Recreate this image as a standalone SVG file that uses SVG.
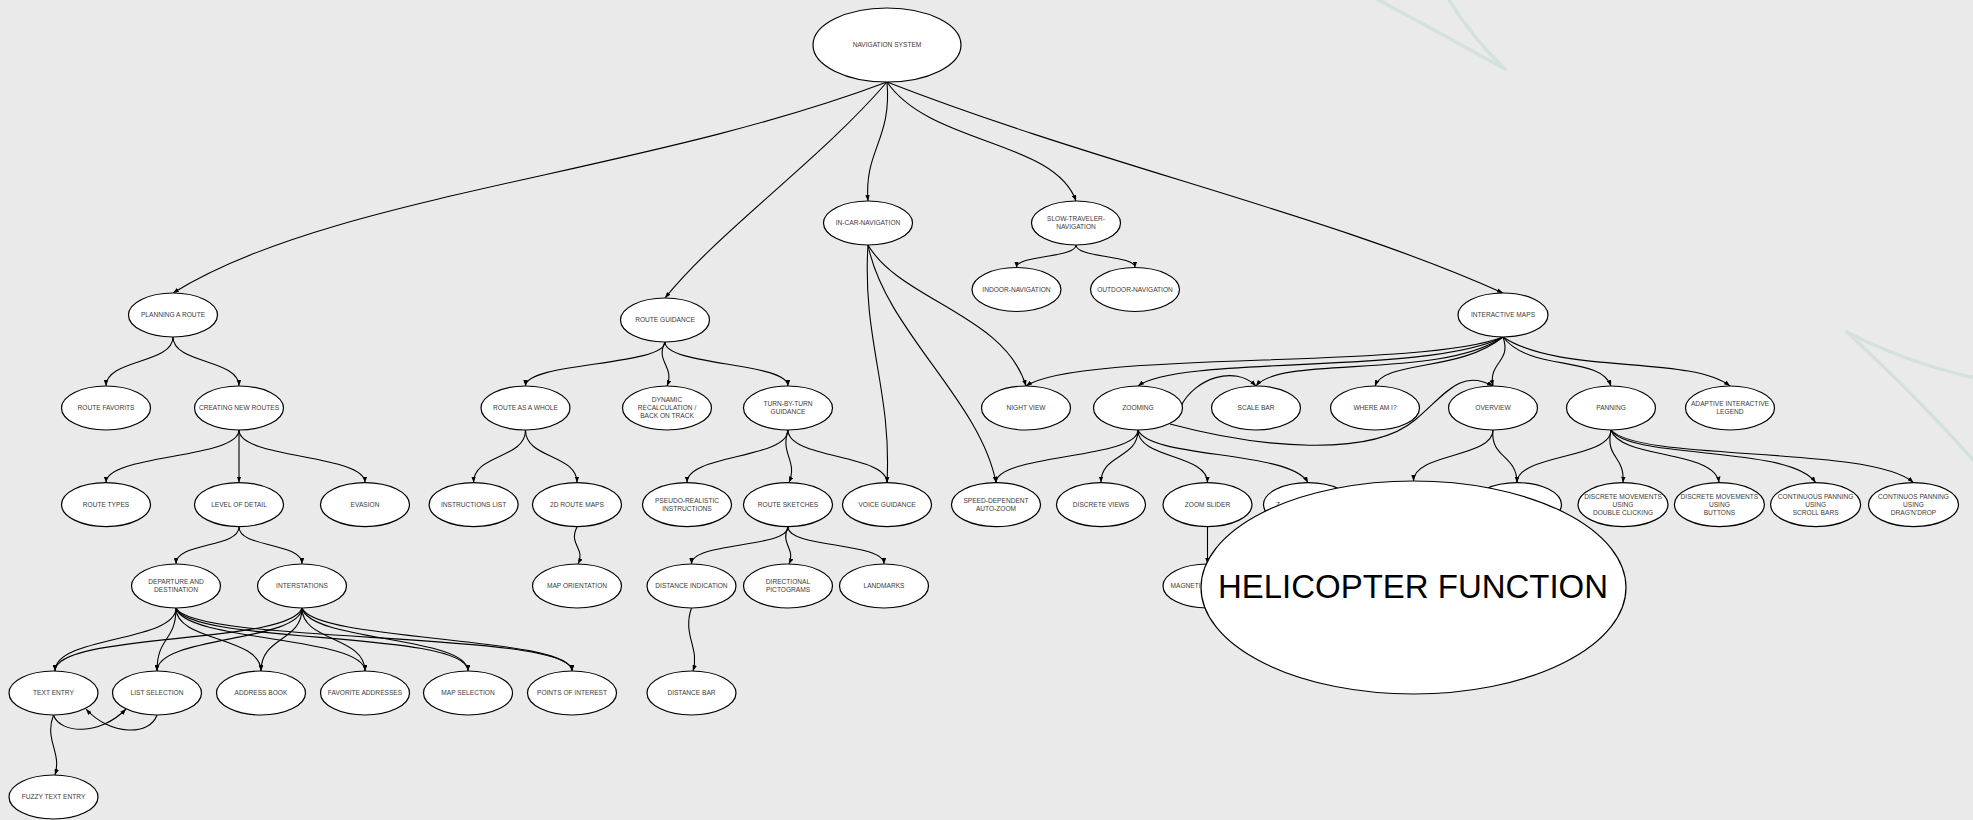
<svg xmlns="http://www.w3.org/2000/svg" width="1973" height="820" viewBox="0 0 1973 820">
  <defs>
    <marker id="arr" viewBox="0 0 8 6" refX="8" refY="3" markerWidth="6" markerHeight="4.5" orient="auto" markerUnits="userSpaceOnUse">
      <path d="M0,0 L8,3 L0,6 z" fill="#000"/>
    </marker>
    <style>
      .n ellipse { fill: #fff; stroke: #000; stroke-width: 1.2; }
      .n text { font-family: "Liberation Sans", Arial, sans-serif; font-size: 6.6px; fill: #3a3a3a; text-anchor: middle; }
      #edges path { fill: none; stroke: #000; stroke-width: 1.1; marker-end: url(#arr); }
      .deco path { fill: none; stroke: #d3e2df; stroke-width: 3.5; stroke-linecap: round; stroke-linejoin: round; }
    </style>
  </defs>

  <rect x="0" y="0" width="1973" height="820" fill="#eaeaea"/>

  <!-- faint background strokes -->
  <g class="deco">
    <path d="M1375,-2 Q1440,33 1505,69"/>
    <path d="M1448,-2 Q1472,38 1505,69"/>
    <path d="M1847,332 Q1905,362 1975,378"/>
    <path d="M1847,332 Q1920,400 1975,462"/>
  </g>

  <g id="edges">
    <!-- NAVIGATION SYSTEM -->
    <path d="M887,82 C640,175 330,195 173,293"/>
    <path d="M887,82 C820,160 720,230 665,298"/>
    <path d="M887,82 C892,140 864,150 868,201"/>
    <path d="M887,82 C930,145 1055,140 1076,201"/>
    <path d="M887,82 C1100,165 1330,215 1503,293"/>
    <!-- SLOW-TRAVELER-NAVIGATION -->
    <path d="M1076,245 C1076,258 1016.5,255 1016.5,267.5"/>
    <path d="M1076,245 C1076,258 1135,255 1135,267.5"/>
    <!-- PLANNING A ROUTE -->
    <path d="M173,337 C173,364 106,359 106,386"/>
    <path d="M173,337 C173,364 239,359 239,386"/>
    <!-- ROUTE GUIDANCE -->
    <path d="M665,342 C665,366 525.5,362 525.5,386"/>
    <path d="M665,342 C655,362 675,366 667,386"/>
    <path d="M665,342 C665,366 788,362 788,386"/>
    <!-- IN-CAR-NAVIGATION -->
    <path d="M868,245 C900,300 1005,315 1026,386"/>
    <path d="M868,245 C885,330 980,400 996,482.6"/>
    <path d="M868,245 C862,340 892,390 887,482.6"/>
    <!-- INTERACTIVE MAPS -->
    <path d="M1503,337 C1420,370 1080,350 1026,386"/>
    <path d="M1503,337 C1430,375 1180,355 1138,386"/>
    <path d="M1503,337 C1440,380 1280,355 1256,386"/>
    <path d="M1503,337 C1460,372 1385,360 1375,386"/>
    <path d="M1503,337 C1512,362 1488,362 1493,386"/>
    <path d="M1503,337 C1530,372 1600,355 1611,386"/>
    <path d="M1503,337 C1560,375 1690,355 1730,386"/>
    <!-- ZOOMING -->
    <path d="M1138,430 C1138,459 996,454 996,482.6"/>
    <path d="M1138,430 C1138,459 1101,454 1101,482.6"/>
    <path d="M1138,430 C1138,459 1207.5,454 1207.5,482.6"/>
    <path d="M1138,430 C1150,459 1290,450 1308,482.6"/>
    <path d="M1181,406 C1195,378 1235,365 1256,386"/>
    <path d="M1170,424 C1260,448 1370,458 1415,420 C1445,395 1460,368 1493,386"/>
    <!-- OVERVIEW -->
    <path d="M1493,430 C1493,458 1413.5,453 1413.5,481"/>
    <path d="M1493,430 C1490,458 1517,455 1517,482.6"/>
    <!-- PANNING -->
    <path d="M1611,430 C1611,459 1517,454 1517,482.6"/>
    <path d="M1611,430 C1605,459 1625,455 1623,482.6"/>
    <path d="M1611,430 C1620,459 1715,450 1719,482.6"/>
    <path d="M1611,430 C1630,460 1790,445 1815.6,482.6"/>
    <path d="M1611,430 C1640,462 1870,445 1913.5,482.6"/>
    <!-- ZOOM SLIDER -->
    <path d="M1207.5,527 L1207.5,564"/>
    <!-- CREATING NEW ROUTES -->
    <path d="M239,430 C239,459 106,454 106,482.6"/>
    <path d="M239,430 L239,482.6"/>
    <path d="M239,430 C239,459 365,454 365,482.6"/>
    <!-- ROUTE AS A WHOLE -->
    <path d="M525.5,430 C525.5,459 473.6,454 473.6,482.6"/>
    <path d="M525.5,430 C525.5,459 577,454 577,482.6"/>
    <!-- TURN-BY-TURN GUIDANCE -->
    <path d="M788,430 C788,459 687,454 687,482.6"/>
    <path d="M788,430 C780,455 798,460 789,482.6"/>
    <path d="M788,430 C788,459 887,454 887,482.6"/>
    <!-- 2D ROUTE MAPS -->
    <path d="M577,527 C568,545 586,548 578,564"/>
    <!-- ROUTE SKETCHES -->
    <path d="M788,527 C788,548 691.5,542 691.5,564"/>
    <path d="M788,527 C780,545 796,548 789,564"/>
    <path d="M788,527 C788,548 884,542 884,564"/>
    <!-- DISTANCE INDICATION -->
    <path d="M691.5,608 C682,635 700,648 693,671"/>
    <!-- LEVEL OF DETAIL -->
    <path d="M239,527 C239,548 176,542 176,564"/>
    <path d="M239,527 C239,548 302,542 302,564"/>
    <!-- DEPARTURE AND DESTINATION -->
    <path d="M176,608 C176,642 55,636 55,671"/>
    <path d="M176,608 C176,642 157,636 157,671"/>
    <path d="M176,608 C176,642 261,636 261,671"/>
    <path d="M176,608 C185,642 365,636 365,671"/>
    <path d="M176,608 C190,645 468,630 468,671"/>
    <path d="M176,608 C195,645 572,630 572,671"/>
    <!-- INTERSTATIONS -->
    <path d="M302,608 C290,645 55,632 55,671"/>
    <path d="M302,608 C300,642 157,636 157,671"/>
    <path d="M302,608 C302,642 261,636 261,671"/>
    <path d="M302,608 C302,642 365,636 365,671"/>
    <path d="M302,608 C310,642 468,636 468,671"/>
    <path d="M302,608 C315,642 572,636 572,671"/>
    <!-- TEXT ENTRY / LIST SELECTION -->
    <path d="M53.5,715 C44,740 62,752 55,775"/>
    <path d="M53.5,715 C60,734 100,736 126,709"/>
    <path d="M157,715 C150,736 110,736 86,709"/>
  </g>

  <g id="n-nav" class="n"><ellipse cx="887" cy="45" rx="74" ry="37"/><text x="887" y="47.4">NAVIGATION SYSTEM</text></g>

  <g id="n-planning" class="n"><ellipse cx="173" cy="315" rx="44.5" ry="22"/><text x="173" y="317.4">PLANNING A ROUTE</text></g>
  <g id="n-guidance" class="n"><ellipse cx="665" cy="320" rx="44.5" ry="22"/><text x="665" y="322.4">ROUTE GUIDANCE</text></g>
  <g id="n-incar" class="n"><ellipse cx="868" cy="223" rx="44.5" ry="22"/><text x="868" y="225.4">IN-CAR-NAVIGATION</text></g>
  <g id="n-slow" class="n"><ellipse cx="1076" cy="223" rx="44.5" ry="22"/><text x="1076" y="221.4">SLOW-TRAVELER-</text><text x="1076" y="229.4">NAVIGATION</text></g>
  <g id="n-indoor" class="n"><ellipse cx="1016.5" cy="289.5" rx="44.5" ry="22"/><text x="1016.5" y="291.9">INDOOR-NAVIGATION</text></g>
  <g id="n-outdoor" class="n"><ellipse cx="1135" cy="289.5" rx="44.5" ry="22"/><text x="1135" y="291.9">OUTDOOR-NAVIGATION</text></g>
  <g id="n-imaps" class="n"><ellipse cx="1503" cy="315" rx="45" ry="22"/><text x="1503" y="317.4">INTERACTIVE MAPS</text></g>

  <g id="n-favorits" class="n"><ellipse cx="106" cy="408" rx="44.5" ry="22"/><text x="106" y="410.4">ROUTE FAVORITS</text></g>
  <g id="n-creating" class="n"><ellipse cx="239" cy="408" rx="44.5" ry="22"/><text x="239" y="410.4">CREATING NEW ROUTES</text></g>
  <g id="n-whole" class="n"><ellipse cx="525.5" cy="408" rx="44.5" ry="22"/><text x="525.5" y="410.4">ROUTE AS A WHOLE</text></g>
  <g id="n-dynamic" class="n"><ellipse cx="667" cy="408" rx="44.5" ry="22"/><text x="667" y="402.4">DYNAMIC</text><text x="667" y="410.4">RECALCULATION /</text><text x="667" y="418.4">BACK ON TRACK</text></g>
  <g id="n-turn" class="n"><ellipse cx="788" cy="408" rx="44.5" ry="22"/><text x="788" y="406.4">TURN-BY-TURN</text><text x="788" y="414.4">GUIDANCE</text></g>
  <g id="n-night" class="n"><ellipse cx="1026" cy="408" rx="44.5" ry="22"/><text x="1026" y="410.4">NIGHT VIEW</text></g>
  <g id="n-zooming" class="n"><ellipse cx="1138" cy="408" rx="44.5" ry="22"/><text x="1138" y="410.4">ZOOMING</text></g>
  <g id="n-scalebar" class="n"><ellipse cx="1256" cy="408" rx="44.5" ry="22"/><text x="1256" y="410.4">SCALE BAR</text></g>
  <g id="n-whereami" class="n"><ellipse cx="1375" cy="408" rx="44.5" ry="22"/><text x="1375" y="410.4">WHERE AM I?</text></g>
  <g id="n-overview" class="n"><ellipse cx="1493" cy="408" rx="44.5" ry="22"/><text x="1493" y="410.4">OVERVIEW</text></g>
  <g id="n-panning" class="n"><ellipse cx="1611" cy="408" rx="44.5" ry="22"/><text x="1611" y="410.4">PANNING</text></g>
  <g id="n-legend" class="n"><ellipse cx="1730" cy="408" rx="44.5" ry="22"/><text x="1730" y="406.4">ADAPTIVE INTERACTIVE</text><text x="1730" y="414.4">LEGEND</text></g>

  <g id="n-types" class="n"><ellipse cx="106" cy="504.6" rx="44.5" ry="22"/><text x="106" y="507">ROUTE TYPES</text></g>
  <g id="n-lod" class="n"><ellipse cx="239" cy="504.6" rx="44.5" ry="22"/><text x="239" y="507">LEVEL OF DETAIL</text></g>
  <g id="n-evasion" class="n"><ellipse cx="365" cy="504.6" rx="44.5" ry="22"/><text x="365" y="507">EVASION</text></g>
  <g id="n-instr" class="n"><ellipse cx="473.6" cy="504.6" rx="44.5" ry="22"/><text x="473.6" y="507">INSTRUCTIONS LIST</text></g>
  <g id="n-maps2d" class="n"><ellipse cx="577" cy="504.6" rx="44.5" ry="22"/><text x="577" y="507">2D ROUTE MAPS</text></g>
  <g id="n-pseudo" class="n"><ellipse cx="687" cy="504.6" rx="44.5" ry="22"/><text x="687" y="503">PSEUDO-REALISTIC</text><text x="687" y="511">INSTRUCTIONS</text></g>
  <g id="n-sketches" class="n"><ellipse cx="788" cy="504.6" rx="44.5" ry="22"/><text x="788" y="507">ROUTE SKETCHES</text></g>
  <g id="n-voice" class="n"><ellipse cx="887" cy="504.6" rx="44.5" ry="22"/><text x="887" y="507">VOICE GUIDANCE</text></g>
  <g id="n-speed" class="n"><ellipse cx="996" cy="504.6" rx="44.5" ry="22"/><text x="996" y="503">SPEED-DEPENDENT</text><text x="996" y="511">AUTO-ZOOM</text></g>
  <g id="n-views" class="n"><ellipse cx="1101" cy="504.6" rx="44.5" ry="22"/><text x="1101" y="507">DISCRETE VIEWS</text></g>
  <g id="n-slider" class="n"><ellipse cx="1207.5" cy="504.6" rx="44.5" ry="22"/><text x="1207.5" y="507">ZOOM SLIDER</text></g>
  <g id="n-zoomz" class="n"><ellipse cx="1308" cy="504.6" rx="44.5" ry="22"/><text x="1276" y="507" style="text-anchor:start">Z</text></g>
  <g id="n-hidden" class="n"><ellipse cx="1517" cy="504.6" rx="44.5" ry="22"/></g>
  <g id="n-dmdouble" class="n"><ellipse cx="1623" cy="504.6" rx="45" ry="22"/><text x="1623" y="499">DISCRETE MOVEMENTS</text><text x="1623" y="507">USING</text><text x="1623" y="515">DOUBLE CLICKING</text></g>
  <g id="n-dmbuttons" class="n"><ellipse cx="1719.4" cy="504.6" rx="45" ry="22"/><text x="1719.4" y="499">DISCRETE MOVEMENTS</text><text x="1719.4" y="507">USING</text><text x="1719.4" y="515">BUTTONS</text></g>
  <g id="n-cpscroll" class="n"><ellipse cx="1815.6" cy="504.6" rx="45" ry="22"/><text x="1815.6" y="499">CONTINUOUS PANNING</text><text x="1815.6" y="507">USING</text><text x="1815.6" y="515">SCROLL BARS</text></g>
  <g id="n-cpdrag" class="n"><ellipse cx="1913.5" cy="504.6" rx="45" ry="22"/><text x="1913.5" y="499">CONTINUOS PANNING</text><text x="1913.5" y="507">USING</text><text x="1913.5" y="515">DRAG'N'DROP</text></g>

  <g id="n-departure" class="n"><ellipse cx="176" cy="586" rx="44.5" ry="22"/><text x="176" y="584.4">DEPARTURE AND</text><text x="176" y="592.4">DESTINATION</text></g>
  <g id="n-interstations" class="n"><ellipse cx="302" cy="586" rx="44.5" ry="22"/><text x="302" y="588.4">INTERSTATIONS</text></g>
  <g id="n-orientation" class="n"><ellipse cx="577" cy="586" rx="44.5" ry="22"/><text x="577" y="588.4">MAP ORIENTATION</text></g>
  <g id="n-distind" class="n"><ellipse cx="691.5" cy="586" rx="44.5" ry="22"/><text x="691.5" y="588.4">DISTANCE INDICATION</text></g>
  <g id="n-pictograms" class="n"><ellipse cx="788" cy="586" rx="44.5" ry="22"/><text x="788" y="584.4">DIRECTIONAL</text><text x="788" y="592.4">PICTOGRAMS</text></g>
  <g id="n-landmarks" class="n"><ellipse cx="884" cy="586" rx="44.5" ry="22"/><text x="884" y="588.4">LANDMARKS</text></g>
  <g id="n-magnet" class="n"><ellipse cx="1207.5" cy="586" rx="44.5" ry="22"/><text x="1170.5" y="588.4" style="text-anchor:start">MAGNETI</text></g>

  <g id="n-textentry" class="n"><ellipse cx="53.5" cy="693" rx="44.5" ry="22"/><text x="53.5" y="695.4">TEXT ENTRY</text></g>
  <g id="n-listsel" class="n"><ellipse cx="157" cy="693" rx="44.5" ry="22"/><text x="157" y="695.4">LIST SELECTION</text></g>
  <g id="n-addr" class="n"><ellipse cx="261" cy="693" rx="44.5" ry="22"/><text x="261" y="695.4">ADDRESS BOOK</text></g>
  <g id="n-fav" class="n"><ellipse cx="365" cy="693" rx="44.5" ry="22"/><text x="365" y="695.4">FAVORITE ADDRESSES</text></g>
  <g id="n-mapsel" class="n"><ellipse cx="468" cy="693" rx="44.5" ry="22"/><text x="468" y="695.4">MAP SELECTION</text></g>
  <g id="n-poi" class="n"><ellipse cx="572" cy="693" rx="44.5" ry="22"/><text x="572" y="695.4">POINTS OF INTEREST</text></g>
  <g id="n-distbar" class="n"><ellipse cx="691.5" cy="693" rx="44.5" ry="22"/><text x="691.5" y="695.4">DISTANCE BAR</text></g>

  <g id="n-fuzzy" class="n"><ellipse cx="53.5" cy="797" rx="44.5" ry="22"/><text x="53.5" y="799.4">FUZZY TEXT ENTRY</text></g>

  <g id="n-helicopter" class="n"><ellipse cx="1413.5" cy="587.5" rx="212.5" ry="106.5"/><text x="1413" y="597.5" style="font-size:34px;fill:#000" textLength="390" lengthAdjust="spacingAndGlyphs">HELICOPTER FUNCTION</text></g>
</svg>
